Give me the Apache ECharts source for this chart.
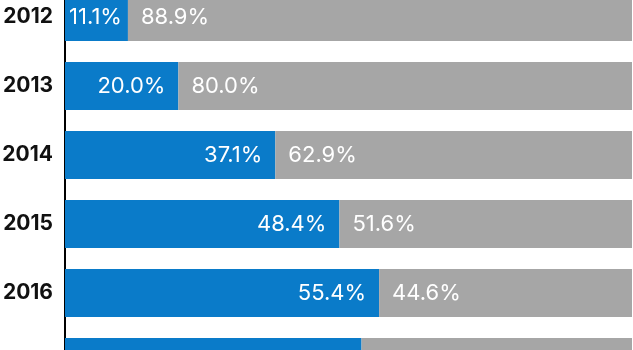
<!DOCTYPE html>
<html>
<head>
<meta charset="utf-8">
<style>
  html, body { margin: 0; padding: 0; background: #ffffff; }
  #chart { width: 633px; height: 350px; }
</style>
<script src="https://cdn.jsdelivr.net/npm/echarts@6/dist/echarts.min.js"></script>
</head>
<body>
<div id="chart"></div>
<script>
const years = ['2012', '2013', '2014', '2015', '2016', '2017'];
const blueShare = [11.1, 20.0, 37.1, 48.4, 55.4, 52.3];
const grayShare = [88.9, 80.0, 62.9, 51.6, 44.6, 47.7];

const FONT = 'Inter, "Liberation Sans", sans-serif';

const chart = echarts.init(document.getElementById('chart'), null, { renderer: 'canvas' });

const blueData = blueShare.map(function (v, i) {
  const item = { value: v };
  if (i === 0) item.label = { distance: 6 };
  return item;
});

chart.setOption({
  animation: false,
  backgroundColor: '#ffffff',
  grid: {
    left: 65, right: 1, top: -17.5, bottom: -46.5,
    containLabel: false,
    outerBoundsMode: 'none'
  },
  xAxis: {
    type: 'value', min: 0, max: 100, show: false
  },
  yAxis: {
    type: 'category',
    data: years,
    inverse: true,
    offset: 1,
    axisLine: { show: true, lineStyle: { color: '#000000', width: 2 } },
    axisTick: { show: false },
    axisLabel: {
      margin: 11,
      color: '#111111',
      fontFamily: FONT,
      fontWeight: 'bold',
      fontSize: 21
    },
    splitLine: { show: false }
  },
  series: [
    {
      type: 'bar',
      stack: 'total',
      data: blueData,
      barWidth: 48,
      itemStyle: { color: '#0a7bc9' },
      label: {
        show: true,
        position: 'insideRight',
        distance: 13,
        color: '#ffffff',
        fontFamily: FONT,
        fontSize: 22,
        formatter: function (p) { return p.value.toFixed(1) + '%'; }
      }
    },
    {
      type: 'bar',
      stack: 'total',
      data: grayShare,
      barWidth: 48,
      itemStyle: { color: '#a6a6a6' },
      label: {
        show: true,
        position: 'insideLeft',
        distance: 13,
        color: '#ffffff',
        fontFamily: FONT,
        fontSize: 22,
        formatter: function (p) { return p.value.toFixed(1) + '%'; }
      }
    }
  ]
});
</script>
</body>
</html>
